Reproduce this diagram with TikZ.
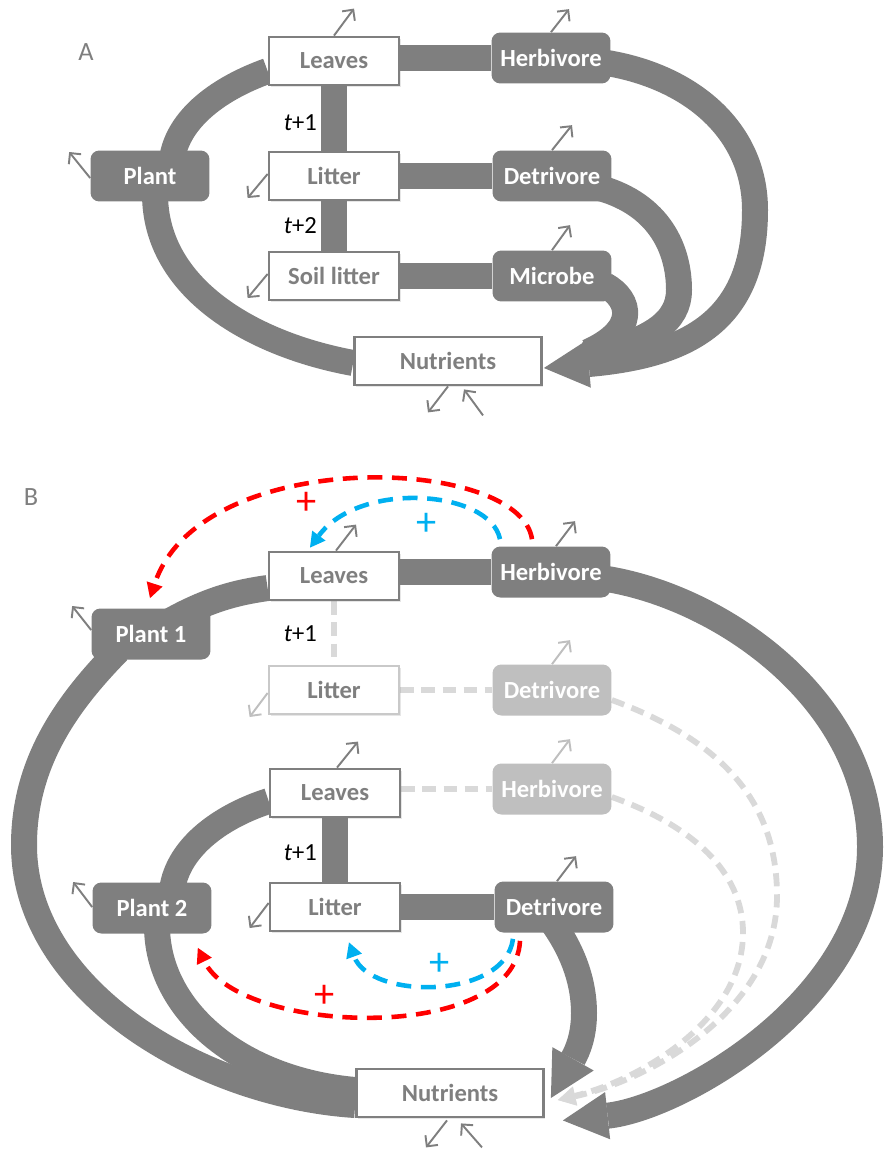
\documentclass[tikz,border=0pt]{standalone}
\usepackage{fontspec}
\setmainfont{Carlito}
\usetikzlibrary{arrows.meta,calc,backgrounds,shadows}
\definecolor{boxgray}{HTML}{7F7F7F}
\definecolor{fadegray}{HTML}{BFBFBF}
\definecolor{ghostgray}{HTML}{D9D9D9}
\definecolor{fbred}{HTML}{FF0000}
\definecolor{fbblue}{HTML}{00B0F0}
\begin{document}
\begin{tikzpicture}[x=0.02cm,y=-0.02cm,
  lbl/.style={font=\fontsize{14}{16}\selectfont\bfseries,inner sep=0pt},
  wbox/.style={lbl,draw=boxgray,line width=1.6pt,fill=white,text=boxgray,
    minimum width=2.6cm,minimum height=0.96cm,
    drop shadow={opacity=0.2,shadow xshift=1pt,shadow yshift=-1pt}},
  nbox/.style={wbox,minimum width=3.74cm},
  fbox/.style={wbox,draw=fadegray!85},
  dbox/.style={lbl,fill=boxgray,text=white,rounded corners=5pt,
    minimum width=2.38cm,minimum height=1.02cm},
  fdbox/.style={dbox,fill=fadegray},
  panel/.style={font=\fontsize{15}{17}\selectfont,text=boxgray},
  tlab/.style={font=\fontsize{14}{16}\selectfont,anchor=east,inner sep=1pt},
  plus/.style={font=\fontsize{23}{24}\selectfont,inner sep=0pt},
  flow/.style={draw=boxgray,line width=0.52cm},
  bigarrow/.style={-{Triangle[length=0.9cm,width=0.95cm,line width=0pt]}},
  ghost/.style={draw=ghostgray,line width=3.3pt,dash pattern=on 7.5pt off 4.5pt},
  ghosthead/.style={-{Triangle[length=10pt,width=11pt,line width=0pt]}},
  fb/.style={line width=2.6pt,dash pattern=on 8.5pt off 5.5pt,
    -{Triangle[length=8.5pt,width=9.5pt,line width=0pt]}},
  flux/.style={draw=boxgray,line width=1.1pt,-{Straight Barb[length=4.5pt,width=9pt]}},
  fluxf/.style={flux,draw=fadegray}]
\useasboundingbox (0,0) rectangle (884,1149);

\node[panel] (labA) at (86,52) {A};
\node[wbox] (leavesA) at (334,61) {Leaves};
\node[wbox] (litterA) at (334,176) {Litter};
\node[wbox] (soilA) at (334,276) {Soil litter};
\node[dbox] (plantA) at (150,176) {Plant};
\node[dbox] (herbA) at (551,58) {Herbivore};
\node[dbox] (detA) at (552,176) {Detrivore};
\node[dbox] (micA) at (552,276) {Microbe};
\node[nbox] (nutA) at (448,361) {Nutrients};
\node[tlab] (tA1) at (319,123) {\textit{t}+1};
\node[tlab] (tA2) at (319,226) {\textit{t}+2};

\node[panel] (labB) at (31,497) {B};
\node[wbox] (leaves1) at (334,576) {Leaves};
\node[dbox] (herb1) at (551,572) {Herbivore};
\node[dbox] (plant1) at (151,634) {Plant 1};
\node[fbox] (litter1) at (334,690) {Litter};
\node[fdbox] (det1) at (552,690) {Detrivore};
\node[wbox] (leaves2) at (335,793) {Leaves};
\node[fdbox] (herb2) at (552,789) {Herbivore};
\node[dbox] (plant2) at (152,908) {Plant 2};
\node[wbox] (litter2) at (335,907) {Litter};
\node[dbox] (det2) at (554,907) {Detrivore};
\node[nbox] (nutB) at (450,1093) {Nutrients};
\node[tlab] (tB1) at (319,634) {\textit{t}+1};
\node[tlab] (tB2) at (319,853) {\textit{t}+1};

\begin{scope}[on background layer]
\draw[flow] (herbA.west) -- (herbA.west -| leavesA.east);
\draw[flow] (leavesA.south) -- (litterA.north);
\draw[flow] (litterA.south) -- (soilA.north);
\draw[flow] (litterA.east) -- (detA.west);
\draw[flow] (soilA.east) -- (micA.west);
\draw[flow] ($(leavesA.west)+(0,10)$) .. controls (220,88) and (178,118) .. ($(plantA.north)+(22,9)$);
\draw[flow] ($(plantA.south)+(5,-8)$) .. controls (155,290) and (255,345) .. ($(nutA.west)+(0,2)$);
\draw[flow] ($(detA.east)+(-12,12)$) .. controls (660,205) and (679,250) .. (679,290) .. controls (679,322) and (650,342) .. (585,355);
\draw[flow] ($(micA.east)+(-7,9)$) .. controls (632,300) and (637,330) .. (588,352);
\draw[flow,bigarrow] ($(herbA.east)+(-10,4)$) .. controls (690,75) and (755,130) .. (755,210) .. controls (755,320) and (690,355) .. ($(nutA.east)+(1,7)$);

\draw[ghost] (leaves1.south) -- (litter1.north);
\draw[ghost] (litter1.east) -- (det1.west);
\draw[ghost] (herb2.west -| leaves2.east) -- (herb2.west);
\draw[ghost,ghosthead] ($(det1.east)+(0,10)$) .. controls (720,740) and (777,800) .. (777,896) .. controls (777,1010) and (650,1080) .. ($(nutB.east)+(13,7)$);
\draw[ghost,ghosthead] ($(herb2.east)+(0,8)$) .. controls (690,825) and (743,870) .. (743,933) .. controls (743,1020) and (640,1080) .. ($(nutB.east)+(13,7)$);

\draw[flow] (herb1.west) -- (herb1.west -| leaves1.east);
\draw[flow] (leaves2.south) -- (litter2.north);
\draw[flow] (litter2.east) -- (det2.west);
\draw[flow] ($(plant1.north)+(15,15)$) .. controls (210,598) and (240,592) .. ($(leaves1.west)+(0,12)$);
\draw[flow] ($(plant1.south)+(-33,-9)$) .. controls (70,700) and (24,760) .. (24,845) .. controls (24,990) and (200,1095) .. ($(nutB.west)+(0,12)$);
\draw[flow] ($(plant2.north)+(20,8)$) .. controls (178,845) and (225,815) .. ($(leaves2.west)+(0,8)$);
\draw[flow] ($(plant2.south)+(5,-8)$) .. controls (157,1010) and (240,1080) .. ($(nutB.west)+(0,-3)$);
\draw[flow,bigarrow] ($(det2.south)+(0,-8)$) .. controls (575,955) and (584,985) .. (584,1013) .. controls (584,1035) and (578,1050) .. ($(nutB.east)+(6,5)$);
\draw[flow,bigarrow] ($(herb1.east)+(-10,6)$) .. controls (720,595) and (870,700) .. (870,847) .. controls (870,1000) and (680,1108) .. ($(nutB.south east)+(18,2)$);
\end{scope}

\draw[flux] (leavesA.north) -- ++(20,-27);
\draw[flux] (herbA.north) -- ++(18,-23);
\draw[flux] (detA.north) -- ++(20,-25);
\draw[flux] (micA.north) -- ++(18,-25);
\draw[flux] ($(plantA.west)+(0,2)$) -- ++(-21,-26);
\draw[flux] ($(litterA.west)+(0,-2)$) -- ++(-20,24);
\draw[flux] ($(soilA.west)+(0,-2)$) -- ++(-20,24);
\draw[flux] (nutA.south) -- ++(-20,26);
\draw[flux] ($(nutA.south)+(35,29)$) -- ++(-19,-26);

\draw[flux] ($(leaves1.north)+(2,0)$) -- ++(20,-26);
\draw[flux] ($(herb1.north)+(5,0)$) -- ++(19,-25);
\draw[flux] ($(plant1.west)+(0,-4)$) -- ++(-19,-24);
\draw[fluxf] ($(litter1.west)+(0,3)$) -- ++(-18,24);
\draw[fluxf] (det1.north) -- ++(18,-24);
\draw[flux] ($(leaves2.north)+(2,0)$) -- ++(21,-26);
\draw[fluxf] (herb2.north) -- ++(18,-24);
\draw[flux] ($(plant2.west)+(0,-1)$) -- ++(-19,-25);
\draw[flux] ($(litter2.west)+(0,-4)$) -- ++(-19,25);
\draw[flux] ($(det2.north)+(3,0)$) -- ++(19,-25);
\draw[flux] ($(nutB.south)+(-3,2)$) -- ++(-21,27);
\draw[flux] ($(nutB.south)+(32,29)$) -- ++(-21,-24);

\draw[fb,draw=fbred] ($(herb1.north)+(-19,-7)$) .. controls (520,455) and (200,445) .. ($(plant1.north)+(-1,-10)$);
\draw[fb,draw=fbblue] ($(herb1.north)+(-51,-7)$) .. controls (490,490) and (360,480) .. ($(leaves1.north)+(-24,-3)$);
\draw[fb,draw=fbblue] ($(det2.south)+(-41,6)$) .. controls (505,1000) and (370,1000) .. ($(litter2.south)+(14,10)$);
\draw[fb,draw=fbred] ($(det2.south)+(-34,8)$) .. controls (515,1045) and (240,1035) .. ($(plant2.south east)+(-14,14)$);
\node[plus,text=fbred] (pr1) at (307,503) {+};
\node[plus,text=fbblue] (pb1) at (427,524) {+};
\node[plus,text=fbblue] (pb2) at (440,964) {+};
\node[plus,text=fbred] (pr2) at (325,996) {+};
\end{tikzpicture}
\end{document}
